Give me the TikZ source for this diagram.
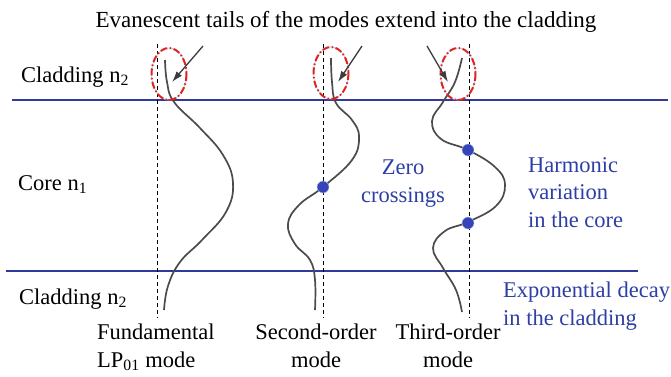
\documentclass[tikz,border=0pt]{standalone}
\usepackage{fontspec}
\setmainfont{Liberation Serif}
\usetikzlibrary{arrows.meta}
\definecolor{lineblue}{RGB}{48,58,155}
\definecolor{textblue}{RGB}{45,62,165}
\definecolor{dotblue}{RGB}{55,68,185}
\definecolor{curvegray}{RGB}{75,75,75}
\definecolor{paleblue}{RGB}{170,200,235}
\definecolor{tailred}{RGB}{225,35,30}
\tikzset{
  boundary/.style={draw=lineblue, line width=2.8pt},
  axisline/.style={draw=black, line width=0.7pt, dash pattern=on 4pt off 3pt},
  modecurve/.style={draw=curvegray, line width=1.7pt},
  tailring/.style={draw=tailred, line width=2pt, dash pattern=on 7pt off 2.5pt on 1.5pt off 2.5pt},
  tailhalo/.style={draw=paleblue, line width=0.7pt},
  pointer/.style={draw=curvegray!80!black, line width=1.3pt, -{Latex[length=11pt,width=7pt]}},
  zerodot/.style={circle, fill=dotblue, draw=paleblue, line width=0.4pt, minimum size=12pt, inner sep=0pt},
  lbl/.style={font=\fontsize{22.5}{27.5}\selectfont, inner sep=0pt},
  bluelbl/.style={lbl, text=textblue}
}
\begin{document}
\begin{tikzpicture}[x=1pt,y=-1pt]
\useasboundingbox (0,0) rectangle (671,376);

% heading
\node[lbl, font=\fontsize{23}{27.5}\selectfont, anchor=base] (head) at (346,27) {Evanescent tails of the modes extend into the cladding};

% region labels
\node[lbl, anchor=base west] (clad1) at (21,82) {Cladding n\textsubscript{2}};
\node[lbl, anchor=base west] (core) at (18,190) {Core n\textsubscript{1}};
\node[lbl, anchor=base west] (clad2) at (19,304) {Cladding n\textsubscript{2}};

% boundaries
\coordinate (t1) at (12,100);
\coordinate (t2) at (668,100);
\coordinate (b1) at (6,271);
\coordinate (b2) at (638,271);
\draw[boundary] (t1) -- (t2);
\draw[boundary] (b1) -- (b2);

% mode axes
\coordinate (a1t) at (157,44); \coordinate (a1b) at (157,318);
\coordinate (a2t) at (323,44); \coordinate (a2b) at (323,318);
\coordinate (a3t) at (469,44); \coordinate (a3b) at (469,318);
\draw[axisline] (a1t) -- (a1b);
\draw[axisline] (a2t) -- (a2b);
\draw[axisline] (a3t) -- (a3b);

% mode profiles
\draw[modecurve] plot[smooth, tension=0.7] coordinates {(165,60) (167,82) (174,102) (200,128) (223,155) (233,183) (226,212) (202,240) (180,262) (168,286) (164,310)};
\draw[modecurve] plot[smooth, tension=0.7] coordinates {(331,58) (332,82) (336,103) (352,120) (359,137) (352,160) (323,187) (299,205) (288,224) (295,244) (310,260) (315,280) (315,310)};
\draw[modecurve] plot[smooth, tension=0.7] coordinates {(462,58) (455,82) (443,102) (432,121) (441,139) (468,150) (495,167) (505,185) (496,206) (468,222) (445,231) (433,248) (443,268) (456,290) (462,312)};

% zero crossings
\node[zerodot] (z1) at (323,187) {};
\node[zerodot] (z2) at (468,150) {};
\node[zerodot] (z3) at (468,223) {};

% evanescent tails
\foreach \cx/\cy in {169/74, 331/73, 458/74} {
  \draw[tailhalo] (\cx,\cy) ellipse [x radius=17.5, y radius=26];
  \draw[tailring] (\cx,\cy) ellipse [x radius=17.5, y radius=26];
}
\coordinate (p1s) at (203,46); \coordinate (p1e) at (172,82);
\coordinate (p2s) at (362,46); \coordinate (p2e) at (338,82);
\coordinate (p3s) at (427,46); \coordinate (p3e) at (448,82);
\draw[pointer] (p1s) -- (p1e);
\draw[pointer] (p2s) -- (p2e);
\draw[pointer] (p3s) -- (p3e);

% annotations (base anchor = last line's baseline)
\node[bluelbl, align=center, anchor=base] (zero) at (403,202) {Zero\\crossings};
\node[bluelbl, align=left, anchor=base west] (harm) at (528,227) {Harmonic\\variation\\in the core};
\node[bluelbl, align=left, anchor=base west] (expo) at (503,325) {Exponential decay\\in the cladding};

% mode names
\node[lbl, align=left, anchor=base west] (m1) at (97,367) {Fundamental\\LP\textsubscript{01} mode};
\node[lbl, align=center, anchor=base] (m2) at (316,367) {Second-order\\mode};
\node[lbl, align=center, anchor=base] (m3) at (448,367) {Third-order\\mode};
\end{tikzpicture}
\end{document}
